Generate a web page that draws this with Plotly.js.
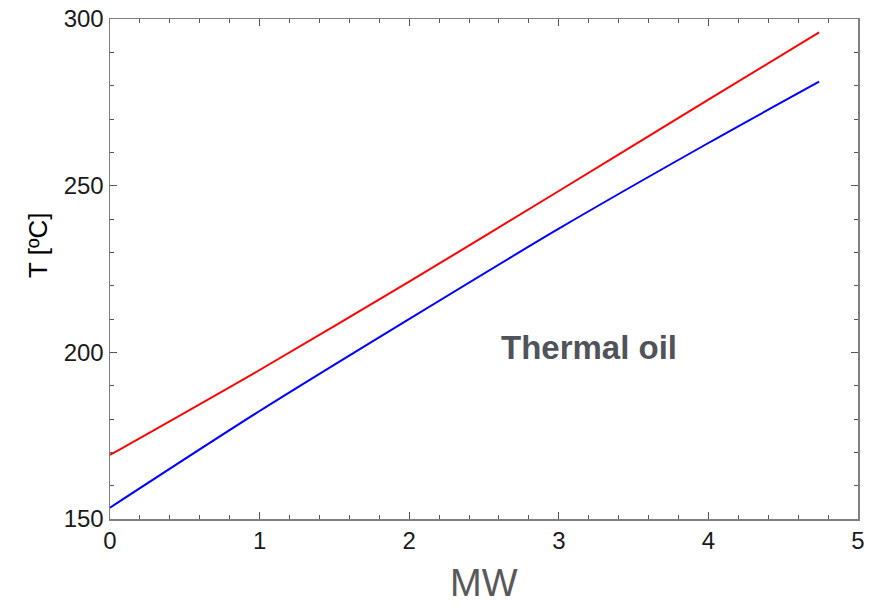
<!DOCTYPE html>
<html>
<head>
<meta charset="utf-8">
<script src="https://cdn.plot.ly/plotly-3.0.1.min.js"></script>
<style>html,body{margin:0;padding:0;background:#fff;}#chart{width:877px;height:613px;}</style>
</head>
<body>
<div id="chart"></div>
<script>
const mw = [0, 1, 2, 3, 4, 4.74];
const hotT = [169.2, 194.7, 221.2, 248.4, 275.8, 296.0];
const coldT = [153.4, 182.4, 210.0, 237.1, 262.8, 281.2];
const xTicks = [0, 1, 2, 3, 4, 5];
const yTicks = [150, 200, 250, 300];
const xTitle = 'MW';
const yTitle = 'T [ºC]';
const annotationText = 'Thermal oil';

const FONT = 'Liberation Sans, Arial, sans-serif';
const axisCommon = {
  showgrid: false, zeroline: false, showline: true, linecolor: '#7f7f7f', linewidth: 1.5,
  mirror: 'ticks', ticks: 'inside', ticklen: 7, tickwidth: 1, tickcolor: '#555',
  tickfont: {family: FONT, size: 24, color: '#1a1a1a'}
};

Plotly.newPlot('chart', [
  {x: mw, y: hotT, mode: 'lines', line: {color: '#ff0000', width: 2, shape: 'spline', smoothing: 0.8}, hoverinfo: 'skip'},
  {x: mw, y: coldT, mode: 'lines', line: {color: '#0000ff', width: 2, shape: 'spline', smoothing: 0.8}, hoverinfo: 'skip'}
], {
  width: 877, height: 613,
  margin: {l: 110, r: 19, t: 19, b: 94},
  paper_bgcolor: '#fff', plot_bgcolor: '#fff',
  showlegend: false,
  xaxis: Object.assign({}, axisCommon, {
    range: [0, 5], tickvals: xTicks, ticktext: xTicks.map(String),
    ticklabelstandoff: 0,
    minor: {ticks: 'inside', dtick: 0.2, ticklen: 4, tickcolor: '#555', showgrid: false}
  }),
  yaxis: Object.assign({}, axisCommon, {
    range: [150, 300], tickvals: yTicks, ticktext: yTicks.map(String),
    ticklabelstandoff: 0,
    minor: {ticks: 'inside', dtick: 10, ticklen: 4, tickcolor: '#555', showgrid: false}
  }),
  annotations: [
    {x: 3.2, y: 201.5, xref: 'x', yref: 'y', text: '<b>' + annotationText + '</b>', showarrow: false,
     font: {family: FONT, size: 33, color: '#50545a'}},
    {x: 0.5, y: -0.128, xref: 'paper', yref: 'paper', text: xTitle, showarrow: false,
     xanchor: 'center', yanchor: 'middle', font: {family: FONT, size: 38, color: '#595959'}},
    {x: -0.0963, y: 0.548, xref: 'paper', yref: 'paper', text: yTitle, showarrow: false, textangle: -90,
     xanchor: 'center', yanchor: 'middle', font: {family: FONT, size: 26, color: '#000'}}
  ]
}, {staticPlot: true, displayModeBar: false});
</script>
</body>
</html>
